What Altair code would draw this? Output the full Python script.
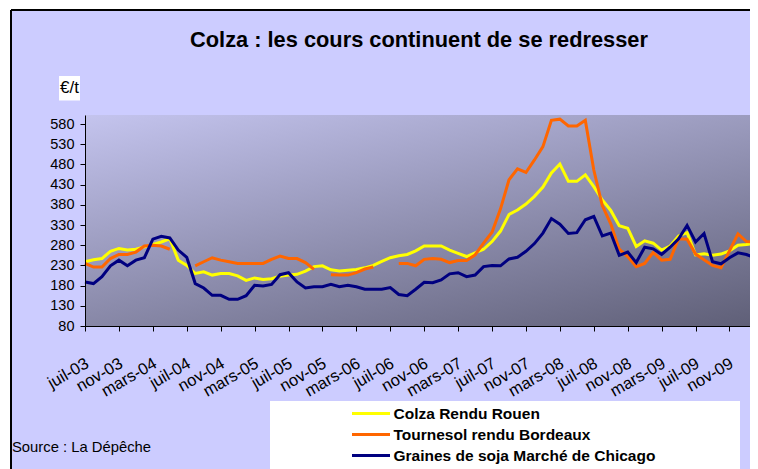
import json
import altair as alt
import pandas as pd

# ---- data (monthly, juil-03 .. févr-10) ----
tick_labels = ["juil-03", "nov-03", "mars-04", "juil-04", "nov-04", "mars-05",
               "juil-05", "nov-05", "mars-06", "juil-06", "nov-06", "mars-07",
               "juil-07", "nov-07", "mars-08", "juil-08", "nov-08", "mars-09",
               "juil-09", "nov-09"]

series_names = ["Colza Rendu Rouen", "Tournesol rendu Bordeaux",
                "Graines de soja Marché de Chicago"]
series_colors = ["#FFFF00", "#FF6600", "#000080"]

colza = [239, 244, 247, 265, 272, 268, 270, 276, 282, 288, 296, 243, 230, 210, 214, 206, 210, 210, 204, 193,
         199, 195, 197, 203, 206, 208, 216, 227, 229, 219, 216, 218, 220, 224, 230, 240, 249, 254, 257, 266,
         278, 278, 278, 268, 260, 252, 261, 270, 289, 315, 356, 367, 382, 401, 424, 459, 481, 438, 438, 454,
         425, 392, 366, 328, 322, 277, 291, 285, 268, 278, 303, 311, 256, 259, 255, 258, 266, 280, 282, 285]

tournesol = [235, 226, 226, 247, 257, 257, 263, 278, 280, 278, 270, None, None, 229, 239, 249, 243, 239, 235, 235,
             235, 235, 245, 253, 247, 247, 237, 220, None, 207, 206, 206, 212, 221, 226, None, None, 235, 235, 229,
             245, 247, 245, 237, 242, 242, 256, 285, 312, 370, 442, 469, 460, 491, 524, 589, 592, 575, 575, 589,
             466, 378, 333, 270, 252, 227, 235, 262, 243, 245, 296, 295, 258, 244, 230, 224, 266, 308, 289, 288]

soja = [189, 185, 202, 229, 243, 229, 243, 249, 295, 302, 298, 268, 250, 185, 174, 156, 156, 146, 146, 155,
        181, 179, 183, 207, 212, 189, 174, 177, 177, 183, 177, 181, 177, 171, 171, 171, 175, 158, 155, 171,
        188, 187, 194, 209, 212, 202, 206, 227, 230, 229, 246, 250, 265, 284, 310, 346, 332, 309, 311, 343,
        351, 303, 310, 255, 263, 237, 275, 271, 257, 275, 296, 329, 288, 309, 239, 234, 249, 261, 257, 249]

y_ticks = list(range(80, 581, 50))

rows = []
for name, vals in zip(series_names, [colza, tournesol, soja]):
    for i, v in enumerate(vals):
        rows.append({"mois": i, "prix": v, "serie": name})
df = pd.DataFrame(rows)
dummy = pd.DataFrame({"k": [0]})

W, H = 665, 211
PX_PER_MONTH = 8.48
FONT = "Liberation Sans"

label_expr = json.dumps(tick_labels) + "[round(datum.value / 4)]"

gradient = alt.LinearGradient(
    gradient="linear",
    stops=[alt.GradientStop(color="#C4C4EE", offset=0),
           alt.GradientStop(color="#5E5E76", offset=1)],
    x1=0, y1=0, x2=0.78, y2=1.15,
)

frame = alt.Chart(dummy).mark_rect(fill="#CCCCFF").encode(
    x=alt.value(-74), x2=alt.value(W + 30), y=alt.value(-105), y2=alt.value(H + 143))

frame_top = alt.Chart(dummy).mark_rule(color="black", strokeWidth=2).encode(
    x=alt.value(-74), x2=alt.value(W + 30), y=alt.value(-105))

frame_left = alt.Chart(dummy).mark_rule(color="black", strokeWidth=2).encode(
    x=alt.value(-74), y=alt.value(-105), y2=alt.value(H + 143))

plot_bg = alt.Chart(dummy).mark_rect(fill=gradient).encode(
    x=alt.value(0), x2=alt.value(W + 20), y=alt.value(0), y2=alt.value(H))

lines = alt.Chart(df).mark_line(strokeWidth=3, invalid="break-paths-show-domains").encode(
    x=alt.X("mois:Q",
            scale=alt.Scale(domain=[0, W / PX_PER_MONTH], nice=False, zero=False),
            axis=alt.Axis(values=list(range(0, 80, 4)), labelExpr=label_expr,
                          labelAngle=330, labelAlign="right", labelBaseline="top",
                          labelPadding=24, labelOffset=-2, labelOverlap=False,
                          labelFlush=False, labelFont=FONT, labelFontSize=16.5,
                          labelColor="black", tickSize=5, tickColor="black",
                          domainColor="black", grid=False, title=None, zindex=1)),
    y=alt.Y("prix:Q",
            scale=alt.Scale(domain=[80, 602.3], nice=False, zero=False),
            axis=alt.Axis(values=y_ticks, labelFont=FONT, labelFontSize=14.5,
                          labelColor="black", labelPadding=6, labelOverlap=False,
                          tickSize=5, tickColor="black", domainColor="black",
                          grid=False, title=None, zindex=1)),
    color=alt.Color("serie:N",
                    scale=alt.Scale(domain=series_names, range=series_colors),
                    legend=alt.Legend(orient="none", legendX=265.5, legendY=288.5,
                                      title=None, symbolType="stroke", symbolSize=1444,
                                      symbolStrokeWidth=3, clipHeight=20, rowPadding=1,
                                      labelFont=FONT, labelFontWeight="bold",
                                      labelFontSize=15.5, labelColor="black",
                                      labelLimit=0, labelOffset=2, padding=0,
                                      direction="vertical")),
)

legend_box = alt.Chart(dummy).mark_rect(fill="white").encode(
    x=alt.value(185), x2=alt.value(655), y=alt.value(286), y2=alt.value(H + 143))

title = alt.Chart(dummy).mark_text(
    text="Colza : les cours continuent de se redresser", font=FONT, fontSize=21.8,
    fontWeight="bold", align="center", baseline="alphabetic", color="black").encode(
    x=alt.value(334), y=alt.value(-68))

unit_box = alt.Chart(dummy).mark_rect(fill="white").encode(
    x=alt.value(-26), x2=alt.value(-5), y=alt.value(-39), y2=alt.value(-14.5))

unit = alt.Chart(dummy).mark_text(
    text="€/t", font=FONT, fontSize=17, align="center", baseline="middle",
    color="black").encode(x=alt.value(-15.5), y=alt.value(-27))

source = alt.Chart(dummy).mark_text(
    text="Source : La Dépêche", font=FONT, fontSize=14.8, align="left",
    baseline="middle", color="black").encode(x=alt.value(-73), y=alt.value(333))

chart = alt.layer(frame, frame_top, frame_left, plot_bg, lines, legend_box, title,
                  unit_box, unit, source).properties(
    width=W, height=H,
    padding={"left": 77, "top": 107, "right": 0, "bottom": 143},
    autosize=alt.AutoSizeParams(type="none"),
    background="white",
).configure_view(stroke=None)

chart.save("out.html", embed_options={"renderer": "svg", "actions": False})
